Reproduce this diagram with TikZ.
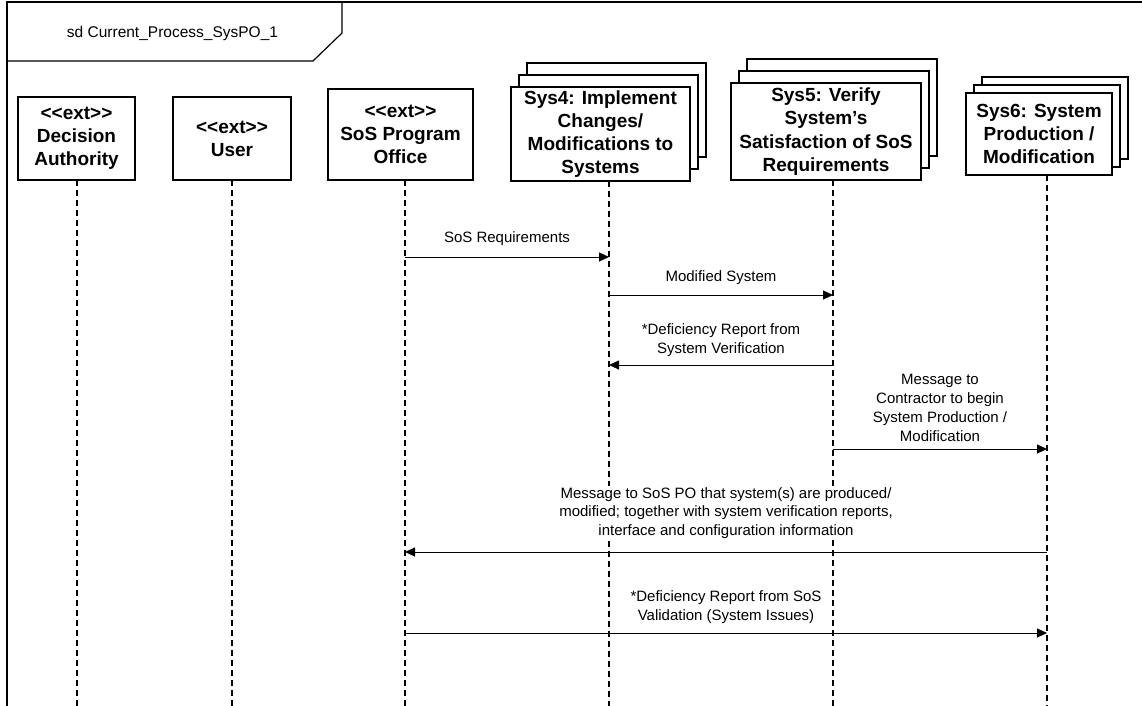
\documentclass[tikz,border=0pt]{standalone}
\usepackage{fontspec}
\setmainfont{Liberation Sans}[Ligatures=TeXOff]
\usetikzlibrary{arrows.meta}
\begin{document}
\begin{tikzpicture}[x=1pt,y=-1pt,
  frameline/.style={line width=1.6pt},
  obj/.style={draw, line width=1.3pt, fill=white, align=center, inner sep=2pt,
     font=\fontsize{19}{23.2}\selectfont\bfseries},
  backbox/.style={draw, line width=1.3pt, fill=white},
  life/.style={line width=1.1pt, dash pattern=on 6pt off 4pt},
  msg/.style={line width=0.9pt, -{Triangle[length=10pt,width=9pt]}},
  lbl/.style={fill=white, inner sep=1pt, align=center, font=\fontsize{15}{18.8}\selectfont},
]
\useasboundingbox (0,0) rectangle (1142,706);
% frame
\draw[frameline] (1142,2) -- (7,2) -- (7,706);
\draw[line width=1.2pt] (7,61) -- (313,61) -- (342,33) -- (342,2);
\node[font=\fontsize{15.5}{18}\selectfont] (title) at (172.5,33) {sd Current\_Process\_SysPO\_1};
% lifeline tops and bottom
\coordinate (bottom) at (0,706);
\coordinate (tDA) at (77,180);
\coordinate (tUS) at (232,180);
\coordinate (tPO) at (405,180);
\coordinate (tS4) at (609,181);
\coordinate (tS5) at (833,180);
\coordinate (tS6) at (1047,175);
\foreach \t in {tDA,tUS,tPO,tS4,tS5,tS6}
  \draw[life] (\t) -- (\t |- bottom);
% objects
\node[obj, minimum width=117pt, minimum height=83pt] (da) at (76.5,138.5) {<<ext>>\\Decision\\Authority};
\node[obj, minimum width=118pt, minimum height=83pt] (us) at (232,138.5) {<<ext>>\\User};
\node[obj, minimum width=145pt, minimum height=91pt] (po) at (400.5,134.5) {<<ext>>\\SoS Program\\Office};
% Sys4 stack
\draw[backbox] (527,63) rectangle (706,157);
\draw[backbox] (519,75) rectangle (698,169);
\node[obj, minimum width=179pt, minimum height=94pt] (s4) at (600.5,134) {Sys4: Implement\\Changes/\\Modifications to\\Systems};
% Sys5 stack
\draw[backbox] (747,59) rectangle (937,156);
\draw[backbox] (739,71) rectangle (929,168);
\node[obj, minimum width=190pt, minimum height=97pt] (s5) at (826,131.5) {Sys5: Verify\\System’s\\Satisfaction of SoS\\Requirements};
% Sys6 stack
\draw[backbox] (982,77) rectangle (1128,159);
\draw[backbox] (974,85) rectangle (1120,167);
\node[obj, minimum width=146pt, minimum height=82pt] (s6) at (1039,134) {Sys6: System\\Production /\\Modification};
% message end points
\coordinate (m1a) at (405,257); \coordinate (m1b) at (609,257);
\coordinate (m2a) at (609,295); \coordinate (m2b) at (833,295);
\coordinate (m3a) at (833,365); \coordinate (m3b) at (609,365);
\coordinate (m4a) at (833,449); \coordinate (m4b) at (1047,449);
\coordinate (m5a) at (1047,552); \coordinate (m5b) at (405,552);
\coordinate (m6a) at (405,633); \coordinate (m6b) at (1047,633);
% labels
\node[lbl] (l1) at (507,239) {SoS Requirements};
\node[lbl] (l2) at (721,278) {Modified System};
\node[lbl] (l3) at (721,340) {*Deficiency Report from\\System Verification};
\node[lbl] (l4) at (940,408) {Message to\\Contractor to begin\\System Production /\\Modification};
\node[lbl] (l5) at (726,513) {Message to SoS PO that system(s) are produced/\\modified; together with system verification reports,\\interface and configuration information};
\node[lbl] (l6) at (726,607) {*Deficiency Report from SoS\\Validation (System Issues)};
% messages
\draw[msg] (m1a) -- (m1b);
\draw[msg] (m2a) -- (m2b);
\draw[msg] (m3a) -- (m3b);
\draw[msg] (m4a) -- (m4b);
\draw[msg] (m5a) -- (m5b);
\draw[msg] (m6a) -- (m6b);
\end{tikzpicture}
\end{document}
